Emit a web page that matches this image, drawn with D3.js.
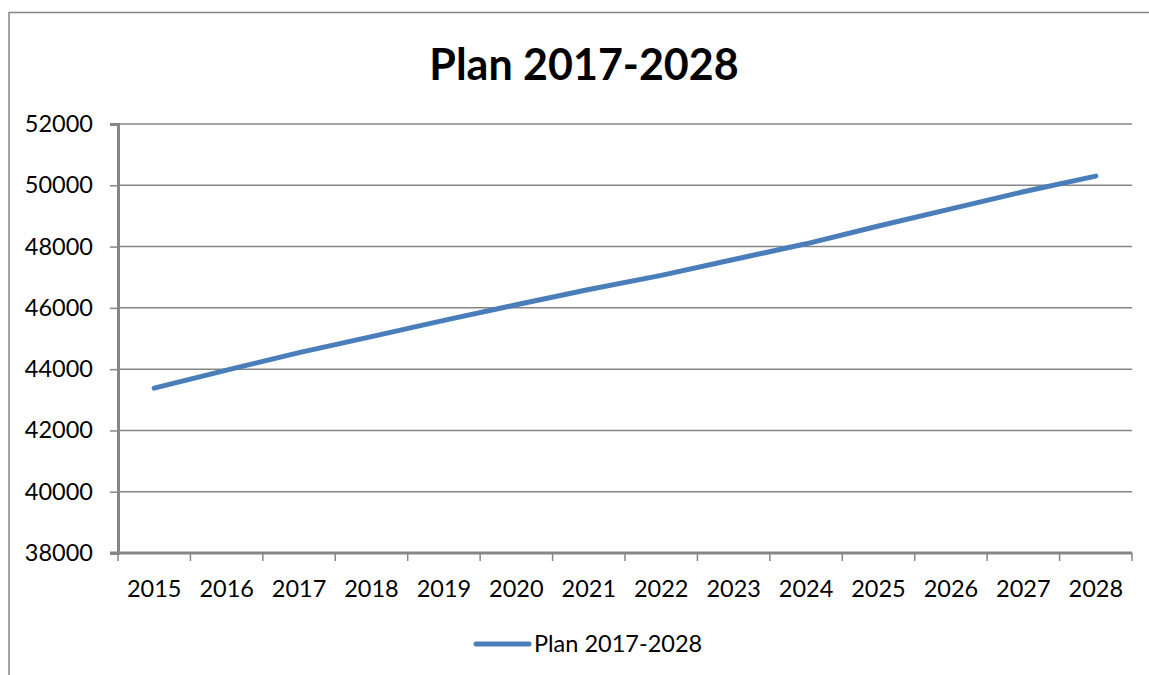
<!DOCTYPE html>
<html>
<head>
<style>
body { margin: 0; background: #fff; }
svg { display: block; }
.tick-label { font-family: "Lato", "Open Sans", sans-serif; font-size: 23.5px; fill: #000; }
</style>
</head>
<body>
<svg id="chart" width="1149" height="675"></svg>
<script src="https://d3js.org/d3.v7.min.js"></script>
<script>
    const years = ["2015", "2016", "2017", "2018", "2019", "2020", "2021", "2022", "2023", "2024", "2025", "2026", "2027", "2028"];
    const plan = [43380, 43970, 44540, 45060, 45590, 46100, 46600, 47060, 47580, 48090, 48670, 49230, 49790, 50300];
    const y_ticks = [38000, 40000, 42000, 44000, 46000, 48000, 50000, 52000];
    const series_name = "Plan 2017-2028";
    const chart_title = "Plan 2017-2028";

    const svg = d3.select("#chart");
    const grey = "#868686";
    const blue = "#4a7ebb";
    const plot_left = 118, plot_right = 1132, plot_top = 124, plot_bottom = 553;

    const x = d3.scaleBand().domain(years).range([plot_left, plot_right]).padding(0);
    const y = d3.scaleLinear().domain([38000, 52000]).range([plot_bottom, plot_top]);

    // outer chart border (cut at right and bottom like the screenshot)
    svg.append("path")
        .attr("d", "M 9 675 L 9 12.5 L 1149 12.5")
        .style("fill", "none")
        .style("stroke", grey)
        .style("stroke-width", 1.5);

    svg.append("text")
        .attr("x", 584)
        .attr("y", 80)
        .attr("text-anchor", "middle")
        .attr("font-family", "Lato, 'Open Sans', sans-serif")
        .attr("font-weight", "bold")
        .attr("font-size", "43px")
        .text(chart_title);

    // gridlines
    svg.selectAll("line.grid")
        .data(y_ticks.filter(d => d > 38000))
        .enter()
        .append("line")
        .attr("class", "grid")
        .attr("x1", plot_left)
        .attr("x2", plot_right)
        .attr("y1", d => y(d))
        .attr("y2", d => y(d))
        .style("stroke", grey)
        .style("stroke-width", 1.5);

    // y axis
    const yAxis = svg.append("g")
        .attr("transform", "translate(" + plot_left + ",0)")
        .call(d3.axisLeft(y).tickValues(y_ticks).tickSize(8).tickPadding(17).tickFormat(d3.format("d")));
    yAxis.select(".domain").style("stroke", grey).style("stroke-width", 3);
    yAxis.selectAll(".tick line").style("stroke", grey).style("stroke-width", 1.5);
    yAxis.selectAll(".tick text").attr("class", "tick-label");
    yAxis.attr("font-size", null).attr("font-family", null);

    // x axis, ticks between categories
    const xAxis = svg.append("g")
        .attr("transform", "translate(0," + plot_bottom + ")")
        .call(d3.axisBottom(x).tickSize(0).tickPadding(27));
    xAxis.select(".domain").remove();
    xAxis.selectAll(".tick text").attr("class", "tick-label");
    xAxis.attr("font-size", null).attr("font-family", null);

    svg.append("line")
        .attr("x1", plot_left - 8)
        .attr("x2", plot_right)
        .attr("y1", plot_bottom)
        .attr("y2", plot_bottom)
        .style("stroke", grey)
        .style("stroke-width", 3);

    svg.selectAll("line.xtick")
        .data(years.map(d => x(d)).concat([x.range()[1]]))
        .enter()
        .append("line")
        .attr("x1", d => d)
        .attr("x2", d => d)
        .attr("y1", plot_bottom)
        .attr("y2", plot_bottom + 8)
        .style("stroke", grey)
        .style("stroke-width", 1.5);

    // the series line
    const line = d3.line()
        .x((d, i) => x(years[i]) + x.bandwidth() / 2)
        .y(d => y(d));

    svg.append("path")
        .datum(plan)
        .attr("d", line)
        .style("fill", "none")
        .style("stroke", blue)
        .style("stroke-width", 5)
        .style("stroke-linecap", "round")
        .style("stroke-linejoin", "round");

    // legend
    svg.append("line")
        .attr("x1", 476)
        .attr("x2", 529)
        .attr("y1", 644)
        .attr("y2", 644)
        .style("stroke", blue)
        .style("stroke-width", 5)
        .style("stroke-linecap", "round");

    svg.append("text")
        .attr("class", "tick-label")
        .attr("x", 534)
        .attr("y", 652)
        .text(series_name);
</script>
</body>
</html>
